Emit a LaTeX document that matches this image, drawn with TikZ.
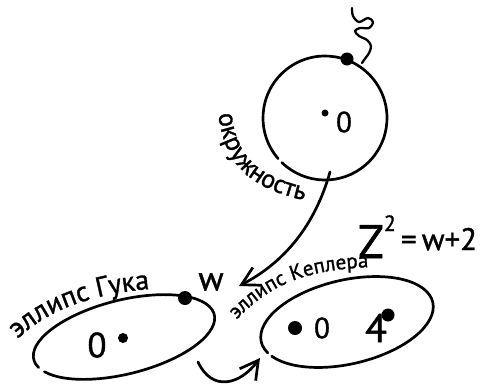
\documentclass[tikz,border=0pt]{standalone}
\usepackage{fontspec}
\setmainfont{PT Sans}[FakeBold=1.2]
\usetikzlibrary{arrows.meta,decorations.text}
\newcommand{\myfs}[1]{\fontsize{#1}{#1}\selectfont}
\begin{document}
\begin{tikzpicture}[x=1pt,y=-1pt,line cap=round,line join=round,
  stroke/.style={line width=2.7pt,draw=black},
  dotnode/.style={circle,fill=black,inner sep=0pt,minimum size=#1},
  lbl/.style={inner sep=0pt,text=black},
  tip/.style={-{Straight Barb[length=18pt,width=20pt]}}]
\useasboundingbox (0,0) rectangle (481,383);
\clip (0,0) rectangle (481,383);

% circle (okruzhnost)
\coordinate (cc) at (325,118);
\draw[stroke] (cc) ++(139:62) arc[start angle=139,end angle=494,radius=62];
\node[dotnode=13pt] (pdot) at (347,59) {};
\node[dotnode=7pt] (cdot) at (325,113) {};
\node[lbl,font=\myfs{29}] (c0) at (344,122) {0};
\draw[line width=2.3pt] plot[smooth,tension=0.55] coordinates {(352,8) (353,16) (359,22) (368,18) (373,22) (369,28) (360,28) (355,31) (359,36) (367,40) (371,46) (369,53) (364,60) (362,63)};
\path[decorate,decoration={text along path,text={|\myfs{26}|окружность},text align=center}]
  (217,100) .. controls (221,162) and (245,190) .. (318,203);

% Hooke ellipse
\begin{scope}[shift={(124,337)},rotate=14]
\draw[stroke] (166:93 and 37) arc[start angle=166,end angle=517,x radius=93,y radius=37];
\end{scope}
\node[dotnode=14pt] (wdot) at (185,298) {};
\node[lbl,font=\myfs{34}] (w) at (211,282) {w};
\node[dotnode=10pt] (hdot) at (123,338) {};
\node[lbl,font=\myfs{35}] (h0) at (97,345) {0};
\path[decorate,decoration={text along path,text={|\myfs{28}|эллипс Гука},text align=center}]
  (10,346) .. controls (44,312) and (84,294) .. (160,288);

% Kepler ellipse
\begin{scope}[shift={(347,322)},rotate=13]
\draw[stroke] (163:88 and 42) arc[start angle=163,end angle=517,x radius=88,y radius=42];
\end{scope}
\node[dotnode=14pt] (kdot1) at (295,328) {};
\node[lbl,font=\myfs{29}] (k0) at (322,328) {0};
\node[lbl,font=\myfs{40}] (k4) at (376,328) {4};
\node[dotnode=13pt] (kdot2) at (388,315) {};
\path[decorate,decoration={text along path,text={|\myfs{21}|эллипс Кеплера},text align=center}]
  (234,322) .. controls (264,292) and (292,270) .. (372,267);

% equation
\node[lbl,anchor=base west] (eq) at (358,258)
  {{\myfs{47}Z}\raisebox{27pt}{\myfs{22}2}\raisebox{8pt}{\myfs{31}\,=\,w+2}};

% connectors
\coordinate (a1s) at (330,172);
\coordinate (a1e) at (239,286);
\draw[stroke,tip] (a1s) .. controls (315,225) and (285,262) .. (a1e);
\coordinate (a2s) at (198,362);
\coordinate (a2e) at (260,358);
\draw[stroke,tip] (a2s) .. controls (212,392) and (240,385) .. (a2e);
\end{tikzpicture}
\end{document}
